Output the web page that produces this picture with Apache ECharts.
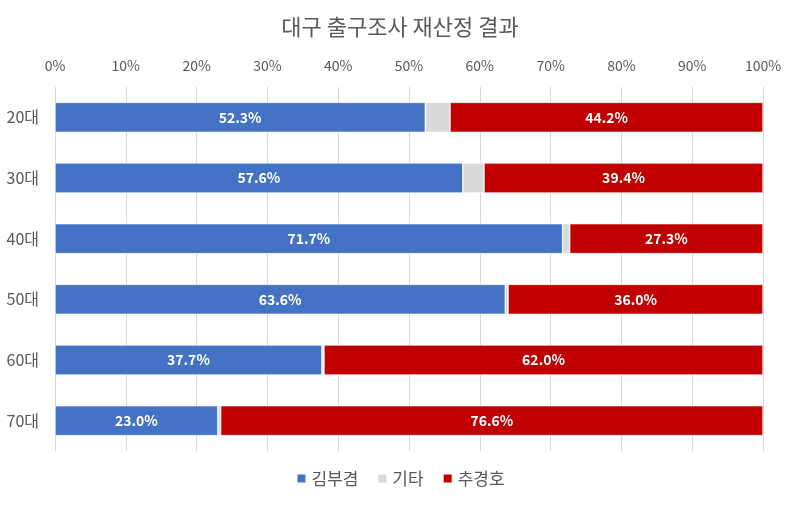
<!DOCTYPE html>
<html>
<head>
<meta charset="utf-8">
<script src="https://cdn.jsdelivr.net/npm/echarts@6/dist/echarts.min.js"></script>
<style>html,body{margin:0;padding:0;background:#fff}#c{width:800px;height:512px}</style>
</head>
<body>
<div id="c"></div>
<script>
const categories = ['20대','30대','40대','50대','60대','70대'];
const kim = [52.3, 57.6, 71.7, 63.6, 37.7, 23.0];
const etc = [3.5, 3.0, 1.0, 0.4, 0.3, 0.4];
const choo = [44.2, 39.4, 27.3, 36.0, 62.0, 76.6];
const seriesNames = ['김부겸','기타','추경호'];
const colors = ['#4472C4','#D9D9D9','#C00000'];

const font = '"Noto Sans CJK KR", "Noto Sans", sans-serif';
const chart = echarts.init(document.getElementById('c'));
const mk = (name, data, color, showLabel) => ({
  name, type: 'bar', stack: 'total', data, barWidth: 30,
  itemStyle: { color, borderColor: '#fff', borderWidth: 0.6 },
  label: { show: showLabel, position: 'inside', color: '#fff', fontWeight: 'bold', fontSize: 14, fontFamily: font,
    formatter: p => p.value.toFixed(1) + '%' }
});
chart.setOption({
  animation: false,
  color: colors,
  title: { text: '대구 출구조사 재산정 결과', left: 'center', top: 11,
    textStyle: { color: '#595959', fontSize: 22, fontWeight: 'normal', fontFamily: font } },
  grid: { left: 55, right: 37, top: 87, bottom: 61 },
  xAxis: { type: 'value', position: 'top', min: 0, max: 100, interval: 10,
    axisLine: { show: false }, axisTick: { show: false },
    splitLine: { lineStyle: { color: '#D9D9D9' } },
    axisLabel: { formatter: '{value}%', color: '#595959', fontSize: 14, fontFamily: font, margin: 14 } },
  yAxis: { type: 'category', data: categories, inverse: true,
    axisLine: { show: false }, axisTick: { show: false },
    axisLabel: { color: '#595959', fontSize: 16, fontFamily: font, margin: 16 } },
  legend: { bottom: 20, left: 'center', itemWidth: 10, itemHeight: 10, itemGap: 18,
    icon: 'rect',
    textStyle: { color: '#595959', fontSize: 17, fontFamily: font }, data: seriesNames },
  series: [
    mk(seriesNames[0], kim, colors[0], true),
    mk(seriesNames[1], etc, colors[1], false),
    mk(seriesNames[2], choo, colors[2], true)
  ]
});
</script>
</body>
</html>
